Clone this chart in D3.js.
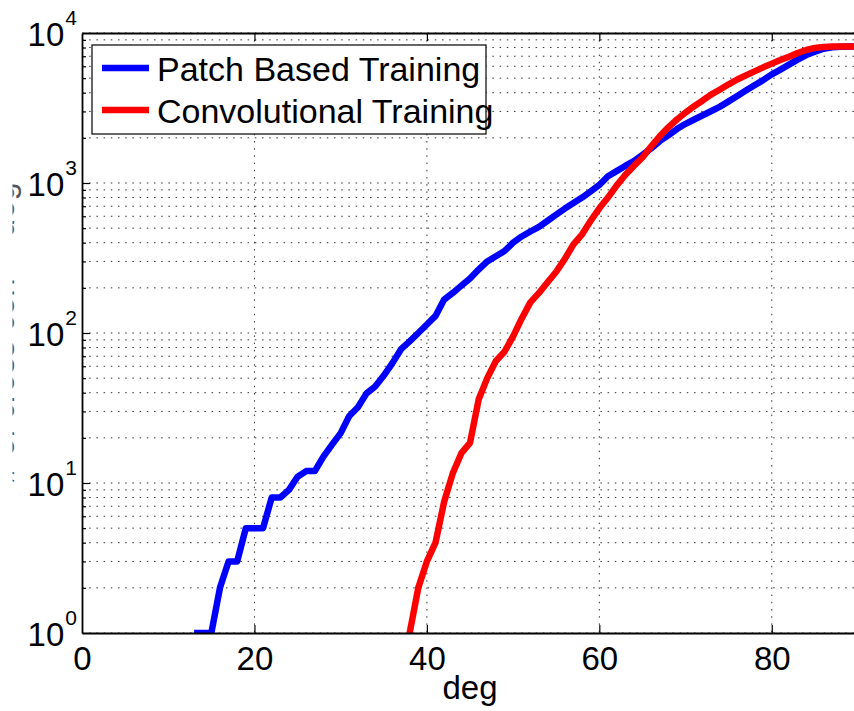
<!DOCTYPE html>
<html>
<head>
<meta charset="utf-8">
<script src="https://cdn.jsdelivr.net/npm/d3@7"></script>
<style>
  html, body { margin: 0; padding: 0; background: #fff; }
  svg { display: block; font-family: "Liberation Sans", Arial, Helvetica, sans-serif; }
  .grid line { stroke: #333; stroke-width: 1; stroke-dasharray: 1.5 5.7; }
  .ax path, .ax line { stroke: #000; }
  .ax path { stroke-width: 1.8; }
  .ax line { stroke-width: 1.2; }
  .ax text { font-size: 33px; fill: #000; }
</style>
</head>
<body>
<svg id="chart"></svg>
<script>
// ── Data: cumulative count of dictionary pairs by angle (deg) ────────────────
const patchDeg = [13,14,15,16,17,18,19,20,21,22,23,24,25,26,27,28,29,30,31,32,33,34,35,36,37,38,39,40,
  41,42,43,44,45,46,47,48,49,50,51,52,53,54,55,56,57,58,59,60,61,62,63,64,65,66,67,68,69,70,
  71,72,73,74,75,76,77,78,79,80,81,82,83,84,85,86,87,88,89,90];
const patchCount = [1,1,1,2,3,3,5,5,5,8,8,9,11,12,12,15,18,21.5,28,32,39.6,44,52,63,78,88,100,114,
  130,167,185,207,231,265,300,325,352,400,440,475,510,560,615,675,735,800,880,970,1110,1200,1300,1400,1540,1700,1900,2080,2290,2480,
  2650,2830,3020,3230,3500,3800,4130,4480,4850,5300,5700,6150,6650,7130,7500,7850,8030,8100,8128,8128];

const convDeg = [38,39,40,41,42,43,44,45,46,47,48,49,50,51,52,53,54,55,56,57,58,59,60,
  61,62,63,64,65,66,67,68,69,70,71,72,73,74,75,76,77,78,79,80,81,82,83,84,85,86,87,88,89,90];
const convCount = [1,2,3,4,7.5,11.6,15.8,18.5,36,50,65,75,95,125,160,185,218,256,312,390,455,560,678,
  800,960,1130,1300,1480,1750,2050,2350,2650,2950,3250,3550,3900,4200,4550,4900,5220,5550,5900,6250,
  6600,6950,7350,7700,7950,8080,8128,8128,8128,8128];

const xTicks   = [0, 20, 40, 60, 80];
const yDecades = [1, 10, 100, 1000, 10000];
const seriesNames = ["Patch Based Training", "Convolutional Training"];
const xLabel = "deg";
const yLabel = "# of cross corr < deg";

// ── Layout ───────────────────────────────────────────────────────────────────
const VW = 854, VH = 711;
const X0 = 82, X1 = 858, Y0 = 633, Y1 = 33;

const svg = d3.select("#chart").attr("width", VW).attr("height", VH);

const x = d3.scaleLinear().domain([0, 90]).range([X0, X1]);
const y = d3.scaleLog().domain([1, 10000]).range([Y0, Y1]);

const yMinors = [];
for (let k = 0; k < 4; k++) for (let m = 2; m <= 9; m++) yMinors.push(m * Math.pow(10, k));

svg.append("defs").append("clipPath").attr("id", "plot-clip")
  .append("rect").attr("x", X0).attr("y", Y1).attr("width", X1 - X0).attr("height", Y0 - Y1);
// the y title sits mostly off the left edge; only a thin sliver shows
svg.select("defs").append("clipPath").attr("id", "ylab-clip")
  .append("rect").attr("x", 12.5).attr("y", 0).attr("width", 10).attr("height", VH);

// ── Grid (dotted) ────────────────────────────────────────────────────────────
const grid = svg.append("g").attr("class", "grid");
grid.selectAll("line.h")
  .data(yDecades.concat(yMinors))
  .join("line").attr("class", "h")
  .attr("x1", X0).attr("x2", X1)
  .attr("y1", d => y(d)).attr("y2", d => y(d));
grid.selectAll("line.v")
  .data(xTicks.slice(1))
  .join("line").attr("class", "v")
  .attr("x1", d => x(d)).attr("x2", d => x(d))
  .attr("y1", Y1).attr("y2", Y0);

// ── Curves ───────────────────────────────────────────────────────────────────
const line = d3.line().x(d => x(d[0])).y(d => y(d[1]));
const curves = svg.append("g").attr("clip-path", "url(#plot-clip)");
[
  { deg: patchDeg, cnt: patchCount, color: "#0000ff" },
  { deg: convDeg,  cnt: convCount,  color: "#ff0000" }
].forEach(s => {
  curves.append("path")
    .datum(d3.zip(s.deg, s.cnt))
    .attr("fill", "none")
    .attr("stroke", s.color)
    .attr("stroke-width", 6.5)
    .attr("stroke-linejoin", "round")
    .attr("d", line);
});

// ── Axes ─────────────────────────────────────────────────────────────────────
svg.append("g").attr("class", "ax")
  .attr("transform", `translate(0,${Y0})`)
  .call(d3.axisBottom(x).tickValues(xTicks).tickSizeInner(-8).tickSizeOuter(0).tickPadding(14))
  .call(a => a.selectAll(".tick").filter(d => d === 0).select("line").remove());

svg.append("g").attr("class", "ax")
  .attr("transform", `translate(0,${Y1})`)
  .call(d3.axisTop(x).tickValues(xTicks.slice(1)).tickSizeInner(-8).tickSizeOuter(0).tickFormat(""));

const yAx = svg.append("g").attr("class", "ax")
  .attr("transform", `translate(${X0},0)`)
  .call(d3.axisLeft(y).tickValues(yDecades).tickSizeInner(-8).tickSizeOuter(0).tickFormat(""));
yAx.selectAll(".tick").filter(d => d === 1 || d === 10000).select("line").remove();

svg.append("g").attr("class", "ax")
  .attr("transform", `translate(${X0},0)`)
  .call(d3.axisLeft(y).tickValues(yMinors).tickSizeInner(-4).tickSizeOuter(0).tickFormat(""))
  .call(a => a.select(".domain").remove());

// y tick labels: 10 with superscript exponent
const yLbl = svg.append("g").attr("font-size", "33px");
yDecades.forEach(v => {
  const t = yLbl.append("text")
    .attr("x", 77).attr("y", y(v) + 13)
    .attr("text-anchor", "end");
  t.append("tspan").text("10");
  t.append("tspan").attr("font-size", "21px").attr("dy", -21).attr("dx", 1)
    .text(Math.round(Math.log10(v)));
});

// axis titles
svg.append("text")
  .attr("x", (X0 + X1) / 2).attr("y", 699)
  .attr("text-anchor", "middle").attr("font-size", "33px")
  .text(xLabel);

svg.append("g").attr("clip-path", "url(#ylab-clip)")
  .append("text")
  .attr("transform", `translate(14,${(Y0 + Y1) / 2}) rotate(-90)`)
  .attr("text-anchor", "middle").attr("font-size", "33px")
  .attr("fill", "#555")
  .text(yLabel);

// ── Legend ───────────────────────────────────────────────────────────────────
const leg = svg.append("g");
leg.append("rect")
  .attr("x", 92).attr("y", 45).attr("width", 394).attr("height", 89)
  .attr("fill", "#fff").attr("stroke", "#000").attr("stroke-width", 1.2);
[
  { name: seriesNames[0], color: "#0000ff", ly: 68,  ty: 81 },
  { name: seriesNames[1], color: "#ff0000", ly: 110, ty: 123 }
].forEach(r => {
  leg.append("line")
    .attr("x1", 102).attr("x2", 149).attr("y1", r.ly).attr("y2", r.ly)
    .attr("stroke", r.color).attr("stroke-width", 6.5);
  leg.append("text")
    .attr("x", 157).attr("y", r.ty).attr("font-size", "34px")
    .text(r.name);
});
</script>
</body>
</html>
